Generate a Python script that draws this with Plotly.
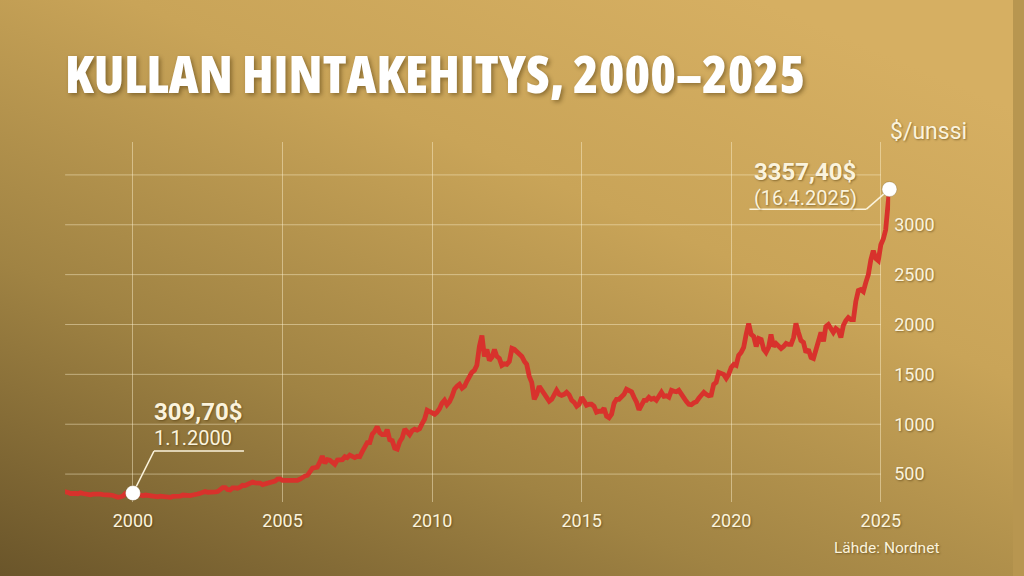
import base64
import pandas as pd
import plotly.graph_objects as go

# ---------------- data ----------------
title_text = "KULLAN HINTAKEHITYS, 2000–2025"
unit_label = "$/unssi"
source_text = "Lähde: Nordnet"

# monthly gold price (USD / oz), Aug 1997 .. Mar 2025, final point 16.4.2025
prices_1997 = [335, 330, 328, 315, 305]
prices_1998 = [300, 305, 303, 312, 305, 298, 300, 292, 298, 302, 300, 298]
prices_1999 = [295, 296, 292, 290, 285, 275, 268, 270, 280, 305, 298, 290]
prices_2000 = [309.7, 300, 292, 288, 282, 290, 286, 280, 278, 276, 272, 278]
prices_2001 = [272, 268, 268, 266, 276, 275, 273, 278, 290, 288, 282, 284]
prices_2002 = [290, 302, 300, 308, 320, 326, 318, 316, 325, 322, 325, 340]
prices_2003 = [365, 365, 345, 340, 362, 362, 358, 368, 388, 385, 395, 415]
prices_2004 = [420, 412, 414, 410, 395, 400, 405, 410, 415, 430, 450, 452]
prices_2005 = [438, 436, 446, 440, 432, 440, 436, 448, 468, 480, 488, 520]
prices_2006 = [560, 565, 570, 620, 680, 610, 645, 640, 610, 598, 640, 640]
prices_2007 = [645, 675, 665, 690, 680, 665, 678, 675, 725, 770, 815, 815]
prices_2008 = [900, 930, 975, 915, 895, 895, 945, 845, 835, 760, 750, 825]
prices_2009 = [865, 950, 930, 895, 935, 950, 940, 955, 1005, 1050, 1140, 1125]
prices_2010 = [1120, 1100, 1120, 1155, 1210, 1240, 1195, 1225, 1280, 1350, 1380, 1400]
prices_2011 = [1360, 1380, 1430, 1480, 1520, 1540, 1590, 1780, 1890, 1680, 1750, 1640]
prices_2012 = [1670, 1750, 1680, 1660, 1590, 1605, 1600, 1630, 1760, 1750, 1725, 1690]
prices_2013 = [1680, 1630, 1600, 1480, 1420, 1250, 1300, 1380, 1340, 1320, 1260, 1230]
prices_2014 = [1250, 1310, 1340, 1300, 1290, 1300, 1320, 1295, 1240, 1220, 1180, 1200]
prices_2015 = [1270, 1230, 1190, 1200, 1200, 1180, 1120, 1130, 1130, 1160, 1080, 1065]
prices_2016 = [1100, 1210, 1250, 1250, 1270, 1300, 1350, 1340, 1325, 1270, 1220, 1145]
prices_2017 = [1200, 1240, 1240, 1270, 1250, 1260, 1240, 1290, 1320, 1280, 1285, 1270]
prices_2018 = [1340, 1330, 1325, 1340, 1300, 1265, 1230, 1200, 1195, 1215, 1225, 1260]
prices_2019 = [1300, 1320, 1300, 1285, 1290, 1400, 1420, 1520, 1510, 1500, 1460, 1500]
prices_2020 = [1570, 1600, 1590, 1690, 1720, 1770, 1900, 2010, 1900, 1880, 1780, 1860]
prices_2021 = [1850, 1750, 1720, 1770, 1900, 1780, 1810, 1790, 1760, 1780, 1810, 1800]
prices_2022 = [1800, 1870, 2010, 1920, 1840, 1820, 1720, 1750, 1670, 1660, 1750, 1820]
prices_2023 = [1920, 1830, 1980, 2000, 1960, 1920, 1960, 1940, 1870, 1990, 2040, 2070]
prices_2024 = [2050, 2050, 2230, 2340, 2350, 2330, 2420, 2500, 2650, 2740, 2660, 2640]
prices_2025 = [2800, 2860, 2950, 3357.4]

monthly_dates = list(pd.date_range("1997-08-01", "2025-03-01", freq="MS").strftime("%Y-%m-%d"))
last_date = "2025-04-16"

start_label_value = "309,70$"
start_label_date = "1.1.2000"
end_label_value = "3357,40$"
end_label_date = "(16.4.2025)"

x_tick_years = [2000, 2005, 2010, 2015, 2020, 2025]
y_tick_vals = [500, 1000, 1500, 2000, 2500, 3000, 3500]
y_tick_text = ["500", "1000", "1500", "2000", "2500", "3000", ""]

# ---------------- build ----------------
prices = (prices_1997 + prices_1998 + prices_1999 + prices_2000 + prices_2001 + prices_2002
          + prices_2003 + prices_2004 + prices_2005 + prices_2006 + prices_2007 + prices_2008
          + prices_2009 + prices_2010 + prices_2011 + prices_2012 + prices_2013 + prices_2014
          + prices_2015 + prices_2016 + prices_2017 + prices_2018 + prices_2019 + prices_2020
          + prices_2021 + prices_2022 + prices_2023 + prices_2024 + prices_2025)
dates = monthly_dates + [last_date]
assert len(dates) == len(prices)

i_start = dates.index("2000-01-01")
i_end = len(dates) - 1

W, H = 1024, 576
WE = 1012  # effective rendered paper width used for horizontal fractions
cream = "#fbf3dc"
shadow = "1px 1px 2px rgba(60,40,0,0.45)"
font_main = "Roboto, Inter, sans-serif"
x_start = "1997-09-24"
x_end = "2025-04-25"
grid_end = f"{x_tick_years[-1]}-01-01"

svg = f"""<svg xmlns='http://www.w3.org/2000/svg' width='{W}' height='{H}' viewBox='0 0 {W} {H}' preserveAspectRatio='none'>
<defs><linearGradient id='g' x1='0' y1='1' x2='0.75' y2='0'>
<stop offset='0' stop-color='#6a552a'/>
<stop offset='0.35' stop-color='#a08343'/>
<stop offset='0.7' stop-color='#c9a458'/>
<stop offset='1' stop-color='#d6af62'/>
</linearGradient></defs>
<rect width='{W}' height='{H}' fill='url(#g)'/></svg>"""
bg_src = "data:image/svg+xml;base64," + base64.b64encode(svg.encode()).decode()

fig = go.Figure()
fig.add_trace(go.Scatter(
    x=dates, y=prices, mode="lines",
    line=dict(color="#d8322c", width=4.8),
    cliponaxis=False, hoverinfo="skip", showlegend=False,
))
fig.add_trace(go.Scatter(
    x=[dates[i_start], dates[i_end]], y=[prices[i_start], prices[i_end]],
    mode="markers",
    marker=dict(size=15, color="white", line=dict(color="rgba(90,60,0,0.25)", width=1)),
    cliponaxis=False, hoverinfo="skip", showlegend=False,
))

grid = "rgba(255,243,210,0.45)"
fig.update_layout(
    width=W, height=H,
    margin=dict(l=0, r=0, t=0, b=0),
    paper_bgcolor="#b89650",
    plot_bgcolor="rgba(0,0,0,0)",
    images=[dict(source=bg_src, xref="paper", yref="paper", x=0, y=1, sizex=1, sizey=1,
                 xanchor="left", yanchor="top", sizing="stretch", layer="below")],
    xaxis=dict(
        domain=[65 / WE, 889.3 / WE], type="date",
        range=[x_start, x_end],
        tickvals=[f"{y}-01-01" for y in x_tick_years],
        ticktext=[str(y) for y in x_tick_years],
        showgrid=True, gridcolor=grid, gridwidth=1,
        zeroline=False, showline=False, ticks="",
        ticklabelstandoff=6,
        tickfont=dict(family=font_main, size=18, color=cream, shadow=shadow),
    ),
    yaxis=dict(
        domain=[74 / H, 434 / H], range=[220, 3830], side="right",
        tickvals=y_tick_vals, ticktext=y_tick_text,
        showgrid=False,
        zeroline=False, showline=False, ticks="",
        ticklabelstandoff=3,
        tickfont=dict(family=font_main, size=18, color=cream, shadow=shadow),
    ),
)

annotations = [
    dict(text=f"<span style='font-stretch:condensed'>{title_text}</span>",
         xref="paper", yref="paper", x=63 / WE, y=1 - 72 / H,
         xanchor="left", yanchor="middle", showarrow=False,
         font=dict(family="Open Sans, sans-serif", size=52, weight=800,
                   color="white", shadow="2px 2px 4px rgba(60,40,0,0.45)")),
    dict(text=unit_label, xref="paper", yref="paper", x=887 / WE, y=1 - 131 / H,
         xanchor="left", yanchor="middle", showarrow=False,
         font=dict(family=font_main, size=23, color=cream, shadow=shadow)),
    dict(text=source_text, xref="paper", yref="paper", x=831 / WE, y=1 - 548 / H,
         xanchor="left", yanchor="middle", showarrow=False,
         font=dict(family=font_main, size=15.5, color=cream, shadow=shadow)),
    # start callout
    dict(text=f"<b>{start_label_value}</b>", x=dates[i_start], y=prices[i_start], xref="x", yref="y",
         xanchor="left", yanchor="middle", xshift=19, yshift=81, showarrow=False,
         font=dict(family=font_main, size=24, color=cream, shadow=shadow)),
    dict(text=start_label_date, x=dates[i_start], y=prices[i_start], xref="x", yref="y",
         xanchor="left", yanchor="middle", xshift=19, yshift=55, showarrow=False,
         font=dict(family=font_main, size=20, color=cream, shadow=shadow)),
    # end callout
    dict(text=f"<b>{end_label_value}</b>", x=dates[i_end], y=prices[i_end], xref="x", yref="y",
         xanchor="left", yanchor="middle", xshift=-137, yshift=17, showarrow=False,
         font=dict(family=font_main, size=24, color=cream, shadow=shadow)),
    dict(text=end_label_date, x=dates[i_end], y=prices[i_end], xref="x", yref="y",
         xanchor="left", yanchor="middle", xshift=-137, yshift=-9, showarrow=False,
         font=dict(family=font_main, size=20, color=cream, shadow=shadow)),
]
fig.update_layout(annotations=annotations)

line_style = dict(color=cream, width=1.5)
shapes = []
# horizontal gridlines, ending at the last year gridline
for v in y_tick_vals:
    shapes.append(dict(type="line", xref="x", yref="y", x0=x_start, x1=grid_end, y0=v, y1=v,
                       line=dict(color=grid, width=1), layer="below"))
shapes += [
    # start callout leader
    dict(type="line", xref="x", yref="y", xsizemode="pixel", ysizemode="pixel",
         xanchor=dates[i_start], yanchor=prices[i_start], x0=0, y0=0, x1=21, y1=42,
         line=line_style, layer="between"),
    dict(type="line", xref="x", yref="y", xsizemode="pixel", ysizemode="pixel",
         xanchor=dates[i_start], yanchor=prices[i_start], x0=21, y0=42, x1=111, y1=42,
         line=line_style, layer="between"),
    # end callout leader
    dict(type="line", xref="x", yref="y", xsizemode="pixel", ysizemode="pixel",
         xanchor=dates[i_end], yanchor=prices[i_end], x0=0, y0=0, x1=-23, y1=-20,
         line=line_style, layer="between"),
    dict(type="line", xref="x", yref="y", xsizemode="pixel", ysizemode="pixel",
         xanchor=dates[i_end], yanchor=prices[i_end], x0=-23, y0=-20, x1=-140, y1=-20,
         line=line_style, layer="between"),
]
fig.update_layout(shapes=shapes)

fig.write_html(
    "out.html",
    config={"responsive": False, "displayModeBar": False},
    post_script="document.body.style.margin='0px';document.body.style.overflow='hidden';",
)
